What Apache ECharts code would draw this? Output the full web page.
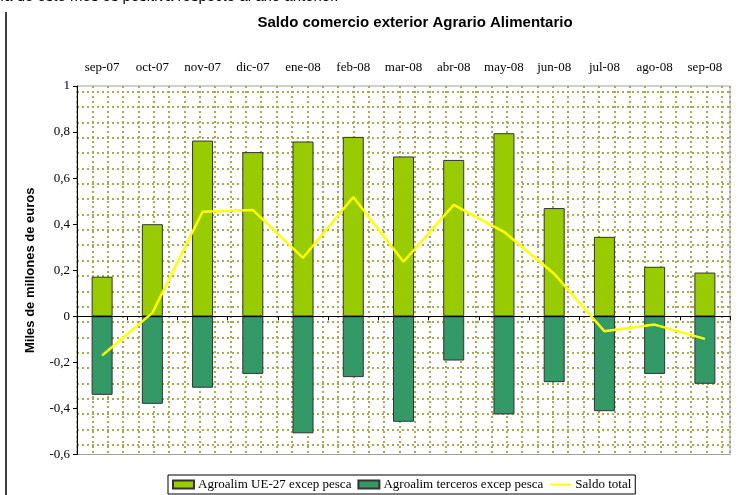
<!DOCTYPE html>
<html>
<head>
<meta charset="utf-8">
<script src="https://cdn.jsdelivr.net/npm/echarts@6/dist/echarts.min.js"></script>
<style>html,body{margin:0;padding:0;background:#fff}#c{width:755px;height:495px}</style>
</head>
<body>
<div id="c"></div>
<script>
var categories = ['sep-07','oct-07','nov-07','dic-07','ene-08','feb-08','mar-08','abr-08','may-08','jun-08','jul-08','ago-08','sep-08'];
var ueValues = [0.172, 0.40, 0.763, 0.713, 0.759, 0.779, 0.694, 0.679, 0.795, 0.47, 0.345, 0.215, 0.19];
var tercerosValues = [-0.341, -0.38, -0.31, -0.25, -0.508, -0.264, -0.458, -0.192, -0.426, -0.286, -0.412, -0.25, -0.293];
var saldoValues = [-0.17, 0.015, 0.454, 0.462, 0.254, 0.518, 0.237, 0.484, 0.367, 0.185, -0.065, -0.036, -0.098];
var seriesNames = ['Agroalim UE-27 excep pesca', 'Agroalim terceros excep pesca', 'Saldo total'];

var serif = '"Liberation Serif", "Times New Roman", serif';
var sans = '"Liberation Sans", Arial, sans-serif';
var dotStyle = {color: '#aaa850', width: 2, type: [2, 3]};

var chart = echarts.init(document.getElementById('c'), null, {renderer: 'canvas'});
chart.setOption({
  animation: false,
  backgroundColor: '#fff',
  title: {
    text: 'Saldo comercio exterior Agrario Alimentario',
    left: 410, textAlign: 'center', top: 10,
    textStyle: {fontFamily: sans, fontWeight: 'bold', fontSize: 15, color: '#000'}
  },
  graphic: [
    {type: 'line', shape: {x1: 6, y1: 12, x2: 6, y2: 495}, style: {stroke: '#000', lineWidth: 1.5}},
    {type: 'text', left: 0, top: -10.5, style: {text: 'ía de este mes es positiva respecto al año anterior.', font: '15px "Liberation Sans", Arial, sans-serif', fill: '#000'}}
  ],
  legend: {
    left: 168, top: 475,
    data: [
      {name: seriesNames[0], icon: 'rect'},
      {name: seriesNames[1], icon: 'rect'},
      {name: seriesNames[2], itemStyle: {color: 'rgba(0,0,0,0)', borderWidth: 0, opacity: 0}}
    ],
    borderColor: '#000', borderWidth: 1, padding: [3, 4, 3, 4],
    itemWidth: 21, itemHeight: 8, itemGap: 6,
    textStyle: {fontFamily: serif, fontSize: 13, color: '#000', padding: [0, 0, 0, -1]}
  },
  grid: [
    {left: 77, right: 25, top: 86, bottom: 40.5, show: true, borderColor: '#a0a0a0', borderWidth: 1, backgroundColor: 'transparent', z: 3},
    {left: 77, width: 653, top: 91.7, height: 353.05, show: false, z: 1},
    {left: 77, width: 653, top: 86, height: 368.5, show: false, z: 1}
  ],
  xAxis: [
    {type: 'category', data: categories, gridIndex: 0, position: 'top',
      axisLine: {show: false, onZero: false}, axisTick: {show: false},
      axisLabel: {interval: 0, fontFamily: serif, fontSize: 13, color: '#000', margin: 12},
      splitLine: {show: false}, z: 5},
    {type: 'category', data: categories, gridIndex: 0, position: 'bottom',
      axisLine: {show: true, onZero: true, lineStyle: {color: '#000', width: 1}},
      axisTick: {show: true, interval: 0, length: 4, lineStyle: {color: '#000'}},
      axisLabel: {show: false}, splitLine: {show: false}, z: 5},
    {type: 'value', gridIndex: 1, min: 0, max: 1, axisLine: {show: false}, axisTick: {show: false}, axisLabel: {show: false}, splitLine: {show: false}},
    {type: 'value', gridIndex: 2, min: 0, max: 42.54, interval: 1, axisLine: {show: false}, axisTick: {show: false}, axisLabel: {show: false}, splitLine: {show: true, lineStyle: dotStyle}}
  ],
  yAxis: [
    {type: 'value', gridIndex: 0, min: -0.6, max: 1, interval: 0.2,
      name: 'Miles de millones de euros', nameLocation: 'middle', nameGap: 40,
      nameTextStyle: {fontFamily: sans, fontWeight: 'bold', fontSize: 13, color: '#000'},
      axisLine: {show: true, onZero: false, lineStyle: {color: '#000'}},
      axisTick: {show: true, length: 4, lineStyle: {color: '#000'}},
      axisLabel: {fontFamily: serif, fontSize: 13, color: '#000', margin: 7,
        formatter: function (v) { return (Math.round(v * 10) / 10).toString().replace('.', ','); }},
      splitLine: {show: false}, z: 5},
    {type: 'value', gridIndex: 1, min: 0, max: 23, interval: 1, axisLine: {show: false}, axisTick: {show: false}, axisLabel: {show: false}, splitLine: {show: true, lineStyle: dotStyle}},
    {type: 'value', gridIndex: 2, min: 0, max: 1, axisLine: {show: false}, axisTick: {show: false}, axisLabel: {show: false}, splitLine: {show: false}}
  ],
  series: [
    {name: seriesNames[0], type: 'bar', xAxisIndex: 0, yAxisIndex: 0, data: ueValues,
      barWidth: 21, barGap: '-100%', z: 3,
      itemStyle: {color: '#99cc00', borderColor: '#333', borderWidth: 1}},
    {name: seriesNames[1], type: 'bar', xAxisIndex: 0, yAxisIndex: 0, data: tercerosValues,
      barWidth: 21, barGap: '-100%', z: 3,
      itemStyle: {color: '#339966', borderColor: '#333', borderWidth: 1}},
    {name: seriesNames[2], type: 'line', xAxisIndex: 0, yAxisIndex: 0, data: saldoValues,
      symbol: 'none', z: 6, lineStyle: {color: '#ffff00', width: 2.5}, itemStyle: {color: '#ffff00'}}
  ]
});
</script>
</body>
</html>
